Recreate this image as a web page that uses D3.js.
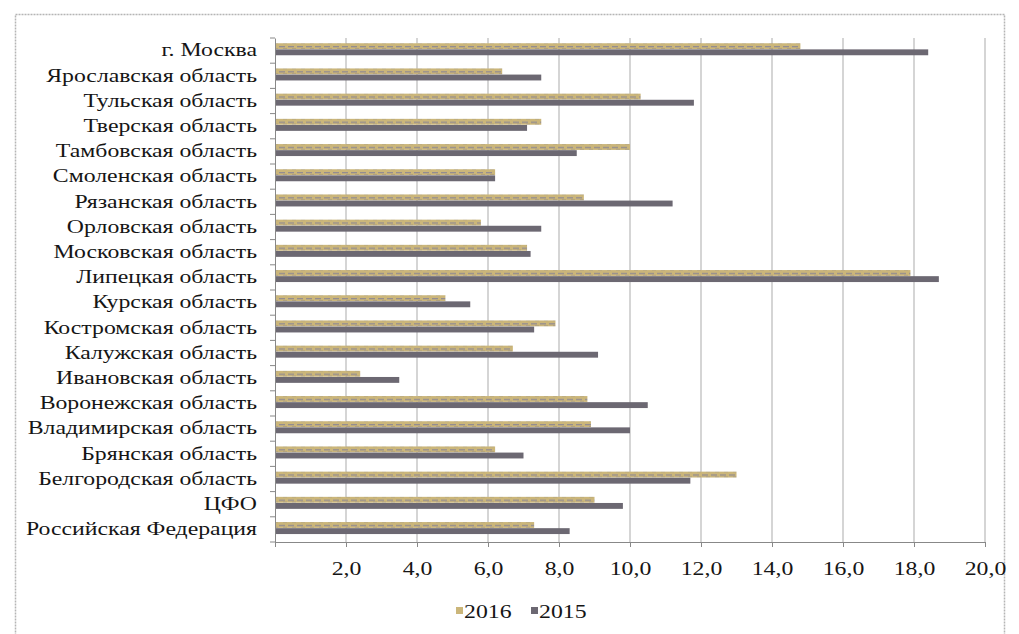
<!DOCTYPE html>
<html>
<head>
<meta charset="utf-8">
<script src="https://cdn.jsdelivr.net/npm/d3@7"></script>
<style>
  body { margin: 0; background: #fff; }
</style>
</head>
<body>
<svg id="chart" width="1019" height="634"></svg>
<script>
const regions = [
  "г. Москва", "Ярославская область", "Тульская область", "Тверская область",
  "Тамбовская область", "Смоленская область", "Рязанская область", "Орловская область",
  "Московская область", "Липецкая область", "Курская область", "Костромская область",
  "Калужская область", "Ивановская область", "Воронежская область", "Владимирская область",
  "Брянская область", "Белгородская область", "ЦФО", "Российская Федерация"
];
const values2016 = [14.8, 6.4, 10.3, 7.5, 10.0, 6.2, 8.7, 5.8, 7.1, 17.9, 4.8, 7.9, 6.7, 2.4, 8.8, 8.9, 6.2, 13.0, 9.0, 7.3];
const values2015 = [18.4, 7.5, 11.8, 7.1, 8.5, 6.2, 11.2, 7.5, 7.2, 18.7, 5.5, 7.3, 9.1, 3.5, 10.5, 10.0, 7.0, 11.7, 9.8, 8.3];
const seriesNames = ["2016", "2015"];
const xTicks = [2, 4, 6, 8, 10, 12, 14, 16, 18, 20];

const FONT = "Liberation Serif";
const STRETCH = 1.25; // the source picture is widened, text included
const svg = d3.select("#chart");
const margin = {left: 275, right: 34, top: 38, bottom: 92};
const W = 1019, H = 634;

const widen = sel => sel.each(function () {
  const len = this.getComputedTextLength();
  d3.select(this).attr("textLength", len * STRETCH).attr("lengthAdjust", "spacingAndGlyphs");
});

// outer frame
svg.append("rect")
  .attr("x", 15.5).attr("y", 14.5)
  .attr("width", 989).attr("height", 640)
  .attr("fill", "none").attr("stroke", "#b5b5b5").attr("stroke-width", 1.5)
  .attr("stroke-dasharray", "2,1");

// textured fill for 2016
const defs = svg.append("defs");
const pat = defs.append("pattern").attr("id", "p2016")
  .attr("patternUnits", "userSpaceOnUse").attr("width", 9).attr("height", 6);
pat.append("rect").attr("width", 9).attr("height", 6).attr("fill", "#cbb67a");
pat.append("rect").attr("x", 0).attr("y", 2).attr("width", 6).attr("height", 1.3).attr("fill", "#948d90");
pat.append("rect").attr("x", 4).attr("y", 4.3).attr("width", 4).attr("height", 1.2).attr("fill", "#a89a7e");

const x = d3.scaleLinear().domain([0, 20]).range([margin.left, W - margin.right]);
const y = d3.scaleBand().domain(regions).range([margin.top, H - margin.bottom]);
const sub = d3.scaleBand().domain(seriesNames).range([5, 17.5]).padding(0.04);

// grid
svg.append("g").selectAll("line").data(xTicks).join("line")
  .attr("x1", d => x(d)).attr("x2", d => x(d))
  .attr("y1", margin.top).attr("y2", H - margin.bottom)
  .attr("stroke", "#ababab").attr("stroke-width", 1);

// bars
const rows = svg.append("g").selectAll("g").data(regions).join("g")
  .attr("transform", d => `translate(0,${y(d)})`);
rows.append("rect")
  .attr("x", x(0)).attr("y", sub("2016"))
  .attr("width", (d, i) => x(values2016[i]) - x(0)).attr("height", sub.bandwidth())
  .attr("fill", "url(#p2016)");
rows.append("rect")
  .attr("x", x(0)).attr("y", sub("2015"))
  .attr("width", (d, i) => x(values2015[i]) - x(0)).attr("height", sub.bandwidth())
  .attr("fill", "#6c6872");

// x axis
const xAxis = svg.append("g")
  .attr("transform", `translate(0,${H - margin.bottom})`)
  .call(d3.axisBottom(x).tickValues([0, ...xTicks]).tickSize(5)
    .tickFormat(d => d === 0 ? "" : d3.format(".1f")(d).replace(".", ",")))
  .attr("font-family", FONT).attr("font-size", 19);
xAxis.select(".domain").attr("stroke", "#888");
xAxis.selectAll(".tick line").attr("stroke", "#888");
xAxis.selectAll(".tick text")
  .style("font-family", FONT).style("font-size", "19px")
  .attr("dy", "1.3em").attr("fill", "#151515")
  .call(widen);

// y axis
const yAxis = svg.append("g")
  .attr("transform", `translate(${margin.left},0)`)
  .call(d3.axisLeft(y).tickSize(0).tickPadding(18))
  .attr("font-family", FONT).attr("font-size", 19);
yAxis.select(".domain").attr("stroke", "#888");
yAxis.selectAll(".tick text")
  .style("font-family", FONT).style("font-size", "19px")
  .attr("dy", "0.3em").attr("fill", "#151515")
  .call(widen);
svg.append("g").selectAll("line").data(d3.range(regions.length + 1)).join("line")
  .attr("x1", margin.left - 5).attr("x2", margin.left)
  .attr("y1", i => margin.top + i * y.step()).attr("y2", i => margin.top + i * y.step())
  .attr("stroke", "#888");

// legend
const legend = svg.append("g").attr("transform", "translate(456,612)");
const items = [{name: "2016", fill: "#cbb67a"}, {name: "2015", fill: "#6c6872"}];
const li = legend.selectAll("g").data(items).join("g")
  .attr("transform", (d, i) => `translate(${i * 75},0)`);
li.append("rect").attr("x", 0).attr("y", -5).attr("width", 7).attr("height", 7).attr("fill", d => d.fill);
li.append("text").attr("x", 8).attr("y", 0).attr("dy", "0.33em")
  .style("font-family", FONT).style("font-size", "19px").attr("fill", "#151515")
  .text(d => d.name)
  .call(widen);
</script>
</body>
</html>
